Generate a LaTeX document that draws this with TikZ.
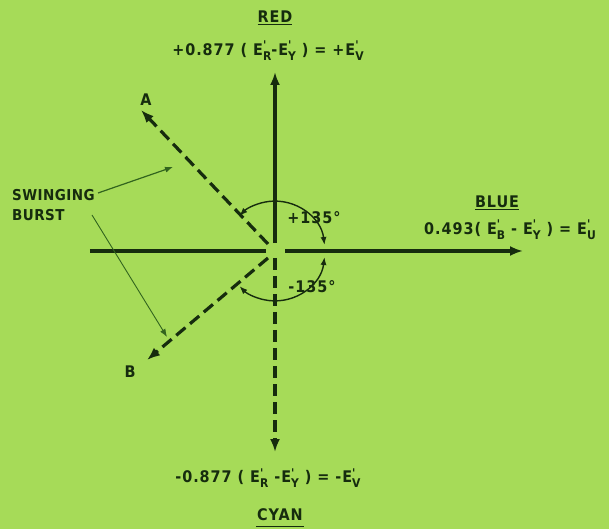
\documentclass[tikz,border=0pt]{standalone}
\usepackage{fontspec}
\usepackage{xcolor}
\usetikzlibrary{arrows.meta,positioning}
\newfontfamily\labfont[LetterSpace=6,BoldFont={DejaVu Sans Condensed Bold}]{DejaVu Sans Condensed}
\newfontfamily\sbfont[LetterSpace=3,BoldFont={DejaVu Sans Condensed Bold}]{DejaVu Sans Condensed}
\definecolor{bggreen}{RGB}{166,219,88}
\definecolor{ink}{RGB}{22,44,14}
\definecolor{thinink}{RGB}{50,100,30}
\newcommand\Ep[1]{E\raisebox{-5pt}{\fontsize{12}{12}\selectfont\shortstack[l]{'\\[-1pt]#1}}}

\begin{document}
\begin{tikzpicture}[
    x=1pt, y=1pt,
    axis/.style={draw=ink, line width=3.2pt},
    vector/.style={axis, -{Latex[length=13pt,width=10pt]}},
    dashvec/.style={vector, dash pattern=on 12pt off 6pt},
    angarc/.style={draw=ink, line width=1.4pt, {Latex[length=8pt,width=6pt]}-{Latex[length=8pt,width=6pt]}},
    pointer/.style={draw=thinink, line width=1.2pt, -{Latex[length=8pt,width=6pt]}},
    every node/.style={text=ink, font=\labfont\bfseries\fontsize{16}{19}\selectfont, inner sep=1pt}
]
\fill[bggreen] (-275,251) rectangle (334,-278);
\useasboundingbox (-275,251) rectangle (334,-278);

\coordinate (O) at (0,0);
% axes
\coordinate (redtip) at (0,179);
\coordinate (bluetip) at (248,0);
\coordinate (cyantip) at (0,-201);
\coordinate (leftend) at (-185,0);
\coordinate (atip) at (-134,141);
\coordinate (btip) at (-128,-109);

\draw[vector] (0,8) -- (redtip);
\draw[vector] (10,0) -- (bluetip);
\draw[axis] (leftend) -- (-9,0);
\draw[dashvec] (0,-7) -- (cyantip);
\draw[dashvec] (-7,7) -- (atip);
\draw[dashvec] (-7,-7) -- (btip);

% angles
\draw[angarc] (49.5,6) arc[start angle=7, end angle=135, radius=50];
\draw[angarc] (49.5,-6) arc[start angle=-7, end angle=-135, radius=50];
\node (plus) at (39,33) {+135°};
\node (minus) at (37,-36) {-135°};

% labels
\node (red) at (0,233) {\underline{RED}};
\node (redf) at (-7,200) {+0.877 ( \Ep{R}-\Ep{Y} ) = +\Ep{V}};
\node (blue) at (222,48) {\underline{BLUE}};
\node (bluef) at (235,21) {0.493( \Ep{B} - \Ep{Y} ) = \Ep{U}};
\node (cyanf) at (-7,-227) {-0.877 ( \Ep{R} -\Ep{Y} ) = -\Ep{V}};
\node (cyan) at (5,-264) {CYAN};
\draw[ink, line width=1.5pt] ([yshift=-4pt]cyan.south west) -- ([yshift=-4pt]cyan.south east);
\node (A) at (-129,151) {A};
\node (B) at (-145,-121) {B};
\node[align=left, anchor=west, font=\sbfont\bfseries\fontsize{15}{20}\selectfont] (sb) at (-264,46) {SWINGING\\BURST};

% swinging burst pointers
\coordinate (sw1) at (-177,58);
\coordinate (sw2) at (-183,36);
\coordinate (pa) at (-102,84);
\coordinate (pb) at (-108,-86);
\draw[pointer] (sw1) -- (pa);
\draw[pointer, line width=0.9pt] (sw2) -- (pb);
\end{tikzpicture}
\end{document}
